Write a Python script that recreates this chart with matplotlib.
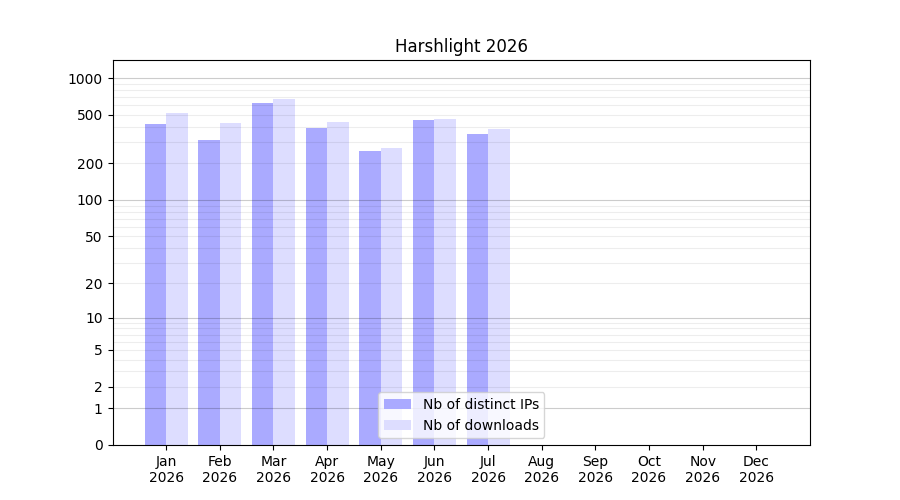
import numpy as np
import matplotlib
matplotlib.use("Agg")
import matplotlib.pyplot as plt
from matplotlib.ticker import FixedLocator, FixedFormatter

months = ["Jan\n2026", "Feb\n2026", "Mar\n2026", "Apr\n2026", "May\n2026", "Jun\n2026",
          "Jul\n2026", "Aug\n2026", "Sep\n2026", "Oct\n2026", "Nov\n2026", "Dec\n2026"]
distinct_ips = [420, 312, 625, 390, 253, 454, 349, 0, 0, 0, 0, 0]
downloads = [518, 429, 675, 437, 268, 463, 383, 0, 0, 0, 0, 0]
yticks = [0, 1, 2, 5, 10, 20, 50, 100, 200, 500, 1000]

fig, ax = plt.subplots(figsize=(9, 5), dpi=100)

fwd = lambda v: np.log10(1 + np.maximum(v, 0))
inv = lambda v: 10 ** v - 1
ax.set_yscale('function', functions=(fwd, inv))

x = np.arange(len(months))
ax.bar(x - 0.2, distinct_ips, width=0.4, color='#aaaaff', label='Nb of distinct IPs', zorder=1)
ax.bar(x + 0.2, downloads, width=0.4, color='#ddddff', label='Nb of downloads', zorder=1)

ax.set_xticks(x)
ax.set_xticklabels(months)
ax.set_xlim(-1, 12)
ax.set_ylim(0, 1410)

ax.yaxis.set_major_locator(FixedLocator(yticks))
ax.yaxis.set_major_formatter(FixedFormatter([str(t) for t in yticks]))
minors = [m * 10 ** d for d in range(0, 4) for m in range(2, 10) if m * 10 ** d < 1410]
ax.yaxis.set_minor_locator(FixedLocator(minors))
ax.tick_params(axis='y', which='minor', length=0)

for v in [1, 10, 100, 1000]:
    ax.axhline(v, color='black', alpha=0.2, linewidth=0.8, zorder=2)
for v in minors:
    ax.axhline(v, color='black', alpha=0.07, linewidth=0.8, zorder=2)

ax.set_title('Harshlight 2026')
ax.legend(loc='lower center')

fig.savefig('out.png')
